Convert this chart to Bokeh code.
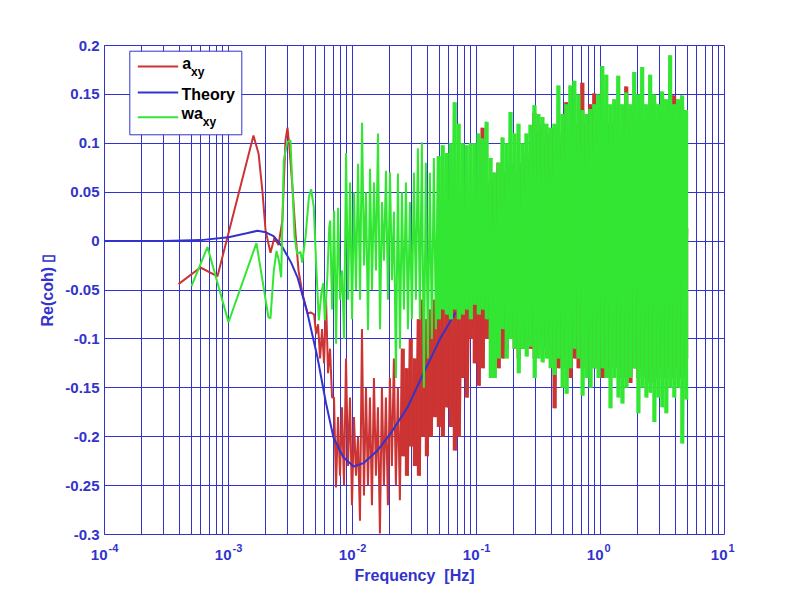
import numpy as np
from bokeh.plotting import figure
from bokeh.layouts import column
from bokeh.models import FixedTicker, BoxAnnotation, Label, Range1d
from bokeh.core.properties import value
from bokeh.embed import file_html
from bokeh.resources import INLINE

BLUE = "#3333cc"
RED = "#cc3333"
GREEN = "#33e633"
FONT = "Liberation Sans"

# ---------------- data ----------------
theory_f = [1e-4, 3e-4, 6e-4, 1.0e-3, 1.4e-3, 1.71e-3, 2.0e-3, 2.31e-3, 2.72e-3,
            3.2e-3, 3.6e-3, 4.3e-3, 5.22e-3, 6.1e-3, 7.03e-3, 8.45e-3, 1.02e-2,
            1.23e-2, 1.59e-2, 2.02e-2, 2.78e-2, 3.74e-2, 5.13e-2, 6.78e-2]
theory_v = [0.0, 0.0002, 0.001, 0.004, 0.008, 0.0105, 0.009, 0.005, -0.006,
            -0.022, -0.037, -0.072, -0.119, -0.165, -0.201, -0.221, -0.2305,
            -0.227, -0.214, -0.197, -0.170, -0.135, -0.099, -0.073]

# a_xy : low-frequency part
a_f = [3.95e-4, 5.94e-4, 8.15e-4, 1.59e-3, 1.75e-3, 1.88e-3, 1.99e-3, 2.18e-3,
       2.35e-3, 2.53e-3, 2.72e-3, 2.88e-3, 2.99e-3, 3.10e-3, 3.28e-3, 3.47e-3,
       3.67e-3, 3.95e-3, 4.34e-3, 4.59e-3]
a_v = [-0.044, -0.027, -0.036, 0.108, 0.089, 0.05, 0.011, -0.012,
       0.004, -0.004, 0.021, 0.103, 0.116, 0.096, 0.055, 0.008,
       -0.030, -0.054, -0.074, -0.073]
# a_xy : dense part 4.9e-3 .. 5 Hz, successive peak / trough values
a_range = (4.9e-3, 5.0)
a_peaks = [-0.075, -0.085, -0.09, -0.06, -0.11, -0.16, -0.18, -0.17, -0.12, -0.16,
           -0.18, -0.2, -0.09, -0.15, -0.16, -0.14, -0.17, -0.15, -0.16, -0.14,
           -0.12, -0.15, -0.11, -0.13, -0.1, -0.12, -0.08, -0.06, -0.08, -0.07,
           -0.06, -0.07, -0.04, -0.05, -0.04, -0.05, -0.03, -0.04, -0.03, -0.02,
           -0.01, 0.0, 0.116, 0.05, 0.06, 0.07, 0.08, 0.06, 0.07, 0.08,
           0.06, 0.07, 0.08, 0.09, 0.08, 0.131, 0.11, 0.12, 0.1, 0.11,
           0.116, 0.11, 0.1, 0.142, 0.11, 0.1, 0.12, 0.162, 0.12, 0.14,
           0.151, 0.12, 0.11, 0.1, 0.12, 0.12, 0.11, 0.1, 0.158, 0.12,
           0.11, 0.1, 0.12, 0.12, 0.138, 0.142, 0.12, 0.13, 0.11, 0.12,
           0.149, 0.12, 0.137, -0.12]
a_troughs = [-0.095, -0.12, -0.125, -0.135, -0.16, -0.252, -0.24, -0.25, -0.23, -0.27,
             -0.24, -0.286, -0.26, -0.25, -0.27, -0.24, -0.299, -0.25, -0.27, -0.23,
             -0.25, -0.265, -0.22, -0.24, -0.21, -0.23, -0.24, -0.2, -0.22, -0.2,
             -0.18, -0.19, -0.2, -0.17, -0.19, -0.214, -0.2, -0.14, -0.16, -0.1,
             -0.125, -0.148, -0.13, -0.1, -0.095, -0.12, -0.13, -0.12, -0.11, -0.1,
             -0.11, -0.12, -0.11, -0.1, -0.11, -0.12, -0.1, -0.11, -0.1, -0.12,
             -0.171, -0.13, -0.12, -0.13, -0.14, -0.12, -0.13, -0.12, -0.13, -0.12,
             -0.13, -0.12, -0.14, -0.14, -0.13, -0.12, -0.13, -0.14, -0.14, -0.145,
             -0.13, -0.14, -0.13, -0.14, -0.145, -0.13, -0.14, -0.13, -0.14, -0.13,
             -0.14, -0.13, -0.14, 0.013]

# wa_xy : low-frequency part
wa_f = [5.03e-4, 6.77e-4, 1.0e-3, 1.68e-3, 2.10e-3, 2.18e-3, 2.32e-3, 2.44e-3,
        2.55e-3, 2.66e-3, 2.79e-3, 2.97e-3, 3.16e-3, 3.28e-3, 3.41e-3, 3.58e-3,
        3.81e-3, 3.93e-3, 4.18e-3, 4.45e-3, 4.64e-3, 4.87e-3, 5.09e-3, 5.35e-3,
        5.60e-3, 5.81e-3, 5.98e-3, 6.25e-3, 6.49e-3]
wa_v = [-0.046, -0.006, -0.083, -0.002, -0.078, -0.079, -0.030, -0.010,
        -0.020, -0.037, 0.082, 0.101, 0.103, 0.055, 0.004, -0.013,
        -0.011, -0.022, 0.004, 0.045, 0.053, 0.035, -0.023, -0.081,
        -0.054, -0.043, -0.081, -0.040, 0.014]
# wa_xy : dense part 6.6e-3 .. 5 Hz, successive peak / trough values
wa_range = (6.6e-3, 5.0)
wa_peaks = [0.021, 0.031, 0.034, -0.03, 0.09, 0.06, 0.05, 0.079, 0.121, 0.05,
            0.074, 0.06, 0.11, 0.04, 0.072, 0.07, 0.03, 0.069, 0.05, 0.06,
            0.04, 0.07, 0.095, 0.101, 0.08, 0.07, 0.085, 0.087, 0.098, 0.09,
            0.1, 0.142, 0.12, 0.1, 0.098, 0.1, 0.1, 0.11, 0.105, 0.122,
            0.085, 0.07, 0.08, 0.106, 0.1, 0.132, 0.11, 0.12, 0.1, 0.11,
            0.119, 0.139, 0.13, 0.127, 0.12, 0.116, 0.12, 0.159, 0.13, 0.14,
            0.159, 0.164, 0.15, 0.134, 0.13, 0.135, 0.14, 0.15, 0.179, 0.17,
            0.14, 0.145, 0.169, 0.14, 0.152, 0.14, 0.173, 0.15, 0.178, 0.14,
            0.17, 0.15, 0.14, 0.153, 0.145, 0.19, 0.14, 0.145, 0.149, 0.134]
wa_troughs = [-0.07, -0.105, -0.06, -0.1, -0.06, -0.08, -0.05, -0.06, -0.025, -0.091,
              -0.05, -0.03, -0.09, -0.02, -0.06, -0.04, -0.14, -0.11, -0.07, -0.09,
              -0.08, -0.06, -0.08, -0.15, -0.12, -0.1, -0.09, -0.08, -0.07, -0.075,
              -0.08, -0.07, -0.08, -0.075, -0.07, -0.08, -0.065, -0.075, -0.07, -0.08,
              -0.14, -0.14, -0.12, -0.09, -0.12, -0.1, -0.11, -0.135, -0.11, -0.118,
              -0.108, -0.14, -0.12, -0.124, -0.12, -0.13, -0.137, -0.12, -0.15, -0.156,
              -0.13, -0.11, -0.12, -0.158, -0.14, -0.15, -0.13, -0.14, -0.13, -0.14,
              -0.171, -0.14, -0.16, -0.166, -0.15, -0.14, -0.13, -0.176, -0.15, -0.16,
              -0.155, -0.185, -0.16, -0.17, -0.176, -0.15, -0.16, -0.15, -0.207, -0.162]

x_ticks = [1e-4, 1e-3, 1e-2, 1e-1, 1e0, 1e1]
x_exps = ["-4", "-3", "-2", "-1", "0", "1"]
y_ticks = [-0.3, -0.25, -0.2, -0.15, -0.1, -0.05, 0, 0.05, 0.1, 0.15, 0.2]
y_labels = ["-0.3", "-0.25", "-0.2", "-0.15", "-0.1", "-0.05", "0",
            "0.05", "0.1", "0.15", "0.2"]
x_title = "Frequency\u00a0 [Hz]"
y_title = "Re(coh) \u25af"


def dense(rng, peaks, troughs):
    n = min(len(peaks), len(troughs))
    vals = [v for pair in zip(peaks[:n], troughs[:n]) for v in pair]
    freqs = np.geomspace(rng[0], rng[1], len(vals))
    centers = list(np.sqrt(freqs[0::2] * freqs[1::2]))
    return list(freqs), vals, centers, peaks[:n], troughs[:n]


af2, av2, a_cf, a_pk, a_tr = dense(a_range, a_peaks, a_troughs)
wf2, wv2, w_cf, w_pk, w_tr = dense(wa_range, wa_peaks, wa_troughs)
a_all_f, a_all_v = a_f + af2, a_v + av2
wa_all_f, wa_all_v = wa_f + wf2, wa_v + wv2

# ---------------- main figure ----------------
W = 784
TOP, FH, LEFT, FW = 45, 489, 104, 620
BOT = 8
H1 = TOP + FH + BOT
TXT_SHIFT = 5.5   # Bokeh draws "alphabetic" text a little lower than asked
p = figure(width=W, height=H1, x_axis_type="log", x_range=(1e-4, 10),
           y_range=(-0.3, 0.2), output_backend="svg", toolbar_location=None,
           min_border_left=LEFT, min_border_right=W - LEFT - FW, min_border_top=TOP,
           min_border_bottom=BOT)
p.frame_align = False
p.background_fill_color = "white"
p.border_fill_color = "white"
p.outline_line_color = BLUE
p.outline_line_alpha = 1.0

minor = [m * 10.0 ** e for e in range(-4, 1) for m in range(2, 10)]
xt = FixedTicker(ticks=x_ticks, minor_ticks=minor)
p.xaxis.ticker = xt
p.xgrid.ticker = xt
p.xaxis.visible = False
p.yaxis.ticker = FixedTicker(ticks=y_ticks)
p.yaxis.major_label_overrides = dict(zip(y_ticks, y_labels))

ay = p.yaxis[0]
ay.axis_line_color = BLUE
ay.major_tick_out = 0
ay.major_tick_in = 0
ay.minor_tick_out = 0
ay.minor_tick_in = 0
ay.major_label_text_color = BLUE
ay.major_label_text_font = FONT
ay.major_label_text_font_size = "15px"
ay.major_label_text_font_style = "bold"
ay.major_label_standoff = 5
ay.axis_label = y_title
ay.axis_label_text_color = BLUE
ay.axis_label_text_font = FONT
ay.axis_label_text_font_size = "16px"
ay.axis_label_text_font_style = "bold"
ay.axis_label_standoff = 6

p.xgrid.grid_line_color = BLUE
p.xgrid.minor_grid_line_color = BLUE
p.ygrid.grid_line_color = BLUE
p.xgrid.grid_line_alpha = 1.0
p.xgrid.minor_grid_line_alpha = 1.0
p.ygrid.grid_line_alpha = 1.0

A_FILL_FROM = 22
W_FILL_FROM = 27
p.line(a_all_f, a_all_v, line_color=RED, line_width=2)
p.segment(x0=a_cf[A_FILL_FROM:], y0=a_tr[A_FILL_FROM:], x1=a_cf[A_FILL_FROM:],
          y1=a_pk[A_FILL_FROM:], line_color=RED, line_width=4)
p.line(theory_f, theory_v, line_color=BLUE, line_width=2)
p.line(wa_all_f, wa_all_v, line_color=GREEN, line_width=2)
p.segment(x0=w_cf[W_FILL_FROM:], y0=w_tr[W_FILL_FROM:], x1=w_cf[W_FILL_FROM:],
          y1=w_pk[W_FILL_FROM:], line_color=GREEN, line_width=4)

# legend (frame-relative screen units, y measured up from the frame bottom)
def sy(page_y):
    return FH - (page_y - TOP)

p.add_layout(BoxAnnotation(left=25.3, right=137.3, top=sy(50.7), bottom=sy(134.3),
                           left_units="screen", right_units="screen",
                           top_units="screen", bottom_units="screen",
                           fill_color="white", fill_alpha=1.0,
                           line_color=BLUE, line_width=1, line_alpha=1.0))
for col, yy in ((RED, 66), (BLUE, 92), (GREEN, 116.7)):
    p.add_layout(BoxAnnotation(left=33.3, right=73.7, top=sy(yy) + 1, bottom=sy(yy) - 1,
                               left_units="screen", right_units="screen",
                               top_units="screen", bottom_units="screen",
                               fill_color=col, fill_alpha=1.0, line_color=None))

def lab(x, y, t, size):
    p.add_layout(Label(x=x, y=sy(y - TXT_SHIFT), x_units="screen", y_units="screen",
                       text=t, text_font=FONT, text_font_size=size,
                       text_font_style="bold", text_color="black",
                       text_baseline="alphabetic"))

lab(77.7, 68.3, "a", "16px")
lab(86.6, 76.7, "xy", "12px")
lab(77.0, 99.0, "Theory", "16px")
lab(77.0, 118.3, "wa", "16px")
lab(98.3, 126.7, "xy", "12px")

# ---------------- x tick labels and x title strip (same log scale) ----------------
PAD = 20  # extra pixels on each side so the labels at the ends are not cut
dec = PAD / (FW / 5.0)
H2 = 48
q = figure(width=W, height=H2, x_axis_type="log",
           x_range=Range1d(10 ** (-4 - dec), 10 ** (1 + dec)), y_range=Range1d(0, H2),
           output_backend="svg", toolbar_location=None,
           x_axis_location=None, y_axis_location=None,
           min_border_left=LEFT - PAD, min_border_right=W - LEFT - FW - PAD,
           min_border_top=0, min_border_bottom=0)
q.frame_align = False
q.outline_line_color = None
q.background_fill_color = "white"
q.border_fill_color = "white"
q.grid.visible = False

Y0 = TOP + FH + BOT  # page y of the strip's top edge
def qy(page_y):
    return H2 - (page_y - TXT_SHIFT - Y0)

n = len(x_ticks)
q.text(x=x_ticks, y=[qy(559.8)] * n, text=["10"] * n, x_offset=3,
       text_align="right", text_baseline="alphabetic", text_font=value(FONT),
       text_font_size="15px", text_font_style="bold", text_color=BLUE)
q.text(x=x_ticks, y=[qy(553.0)] * n, text=x_exps, x_offset=4,
       text_align="left", text_baseline="alphabetic", text_font=value(FONT),
       text_font_size="11px", text_font_style="bold", text_color=BLUE)
q.text(x=[10 ** -1.5], y=[qy(580.0)], text=[x_title], text_align="center",
       text_baseline="alphabetic", text_font=value(FONT), text_font_size="16px",
       text_font_style="bold", text_color=BLUE)

layout = column(p, q, spacing=0)
open("out.html", "w").write(file_html(layout, INLINE))
